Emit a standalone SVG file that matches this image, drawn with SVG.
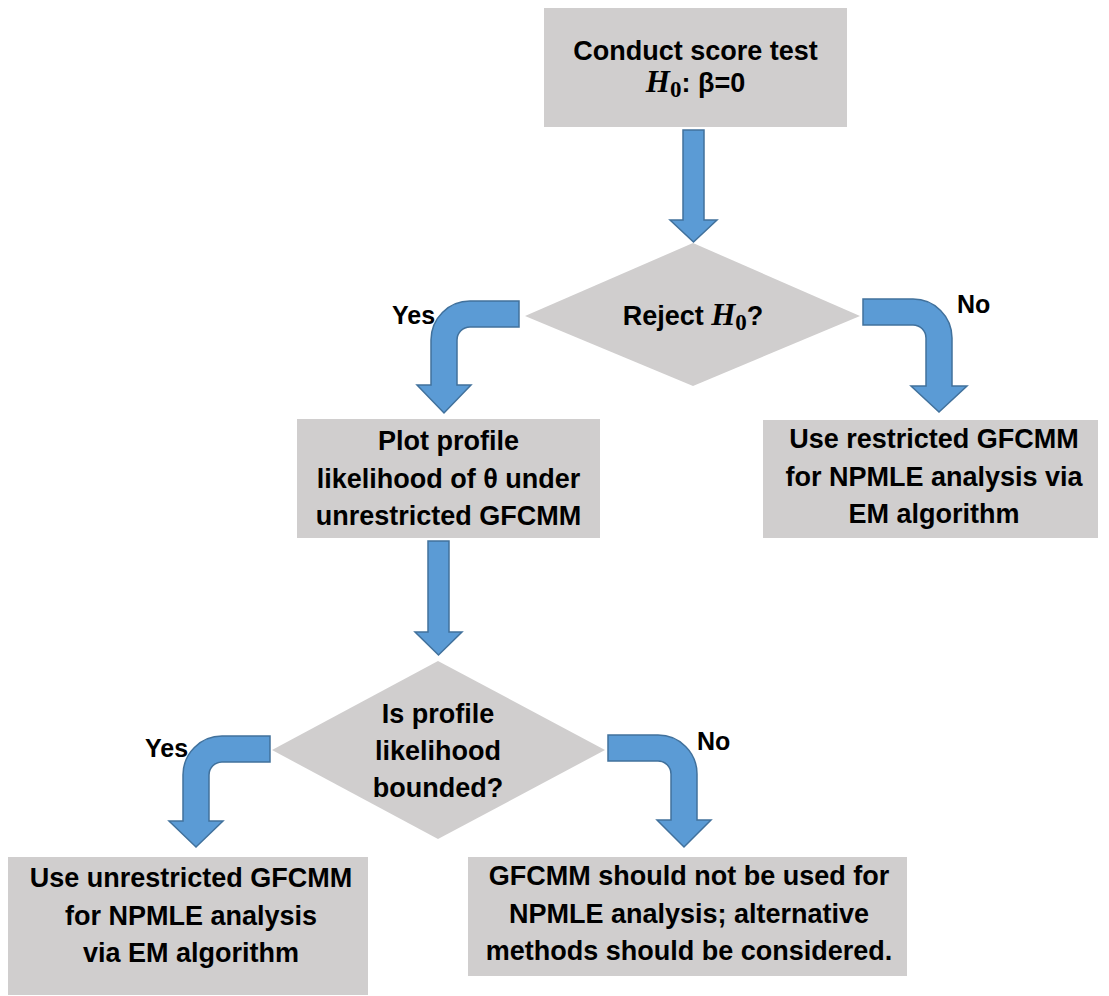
<svg xmlns="http://www.w3.org/2000/svg" width="1109" height="996" viewBox="0 0 1109 996">
<style>
.box{fill:#d0cece;}
.arr{fill:#5b9bd5;stroke:#41719c;stroke-width:1.5;stroke-linejoin:miter;}
.t{font-family:"Liberation Sans",Arial,sans-serif;font-weight:bold;font-size:27px;fill:#000;text-anchor:middle;}
.lbl{font-family:"Liberation Sans",Arial,sans-serif;font-weight:bold;font-size:25px;fill:#000;}
.m{font-family:"Liberation Serif","Times New Roman",serif;font-style:italic;font-weight:bold;font-size:31px;}
.sub{font-family:"Liberation Serif","Times New Roman",serif;font-weight:bold;font-size:23px;}
</style>
<rect width="1109" height="996" fill="#fff"/>
<g id="connectors">
<path class="arr" d="M683,130 L704,130 L704,220 L717,220 L693.5,242 L670,220 L683,220 Z"/>
<path class="arr" d="M519,301 L470,301 A39,39 0 0 0 431,340 L431,385 L417,385 L444,413 L471,385 L457,385 L457,340 A13,13 0 0 1 470,327 L519,327 Z"/>
<path class="arr" d="M863,299 L913,299 A39,39 0 0 1 952,338 L952,386 L967,386 L939,412 L911,386 L926,386 L926,338 A13,13 0 0 0 913,325 L863,325 Z"/>
<path class="arr" d="M428,541 L449,541 L449,632 L462,632 L438.5,655 L415,632 L428,632 Z"/>
<path class="arr" d="M270,736 L222,736 A39,39 0 0 0 183,775 L183,821 L169,821 L196,847 L223,821 L209,821 L209,775 A13,13 0 0 1 222,762 L270,762 Z"/>
<path class="arr" d="M608,735 L658,735 A39,39 0 0 1 697,774 L697,820 L711,820 L684,847 L657,820 L671,820 L671,774 A13,13 0 0 0 658,761 L608,761 Z"/>
<text class="lbl" x="392" y="324">Yes</text>
<text class="lbl" x="957" y="313">No</text>
<text class="lbl" x="145" y="757">Yes</text>
<text class="lbl" x="697" y="750" fill="#333">No</text>
</g>
<g id="start">
<rect class="box" x="544" y="8" width="303" height="119"/>
<text class="t" x="695.5" y="60">Conduct score test</text>
<text class="t" x="695.5" y="92"><tspan class="m">H</tspan><tspan class="sub" dy="5">0</tspan><tspan dy="-5">: β=0</tspan></text>
</g>
<g id="decision1">
<polygon class="box" points="693,243 860,316 693,386 525,316"/>
<text class="t" x="693" y="325">Reject <tspan class="m">H</tspan><tspan class="sub" dy="5">0</tspan><tspan dy="-5">?</tspan></text>
</g>
<g id="plot">
<rect class="box" x="297" y="419" width="303" height="119"/>
<text class="t" x="448.5" y="450">Plot profile</text>
<text class="t" x="448.5" y="488">likelihood of θ under</text>
<text class="t" x="448.5" y="525">unrestricted GFCMM</text>
</g>
<g id="restricted">
<rect class="box" x="763" y="420" width="335" height="118"/>
<text class="t" x="934" y="448">Use restricted GFCMM</text>
<text class="t" x="934" y="486">for NPMLE analysis via</text>
<text class="t" x="934" y="523">EM algorithm</text>
</g>
<g id="decision2">
<polygon class="box" points="438,661 605,750 438,839 272,750"/>
<text class="t" x="438" y="723">Is profile</text>
<text class="t" x="438" y="760">likelihood</text>
<text class="t" x="438" y="797">bounded?</text>
</g>
<g id="unrestricted">
<rect class="box" x="8" y="857" width="360" height="138"/>
<text class="t" x="191" y="887">Use unrestricted GFCMM</text>
<text class="t" x="191" y="925">for NPMLE analysis</text>
<text class="t" x="191" y="962">via EM algorithm</text>
</g>
<g id="alternative">
<rect class="box" x="468" y="857" width="439" height="119"/>
<text class="t" x="689" y="885">GFCMM should not be used for</text>
<text class="t" x="689" y="923">NPMLE analysis; alternative</text>
<text class="t" x="689" y="960">methods should be considered.</text>
</g>
</svg>
